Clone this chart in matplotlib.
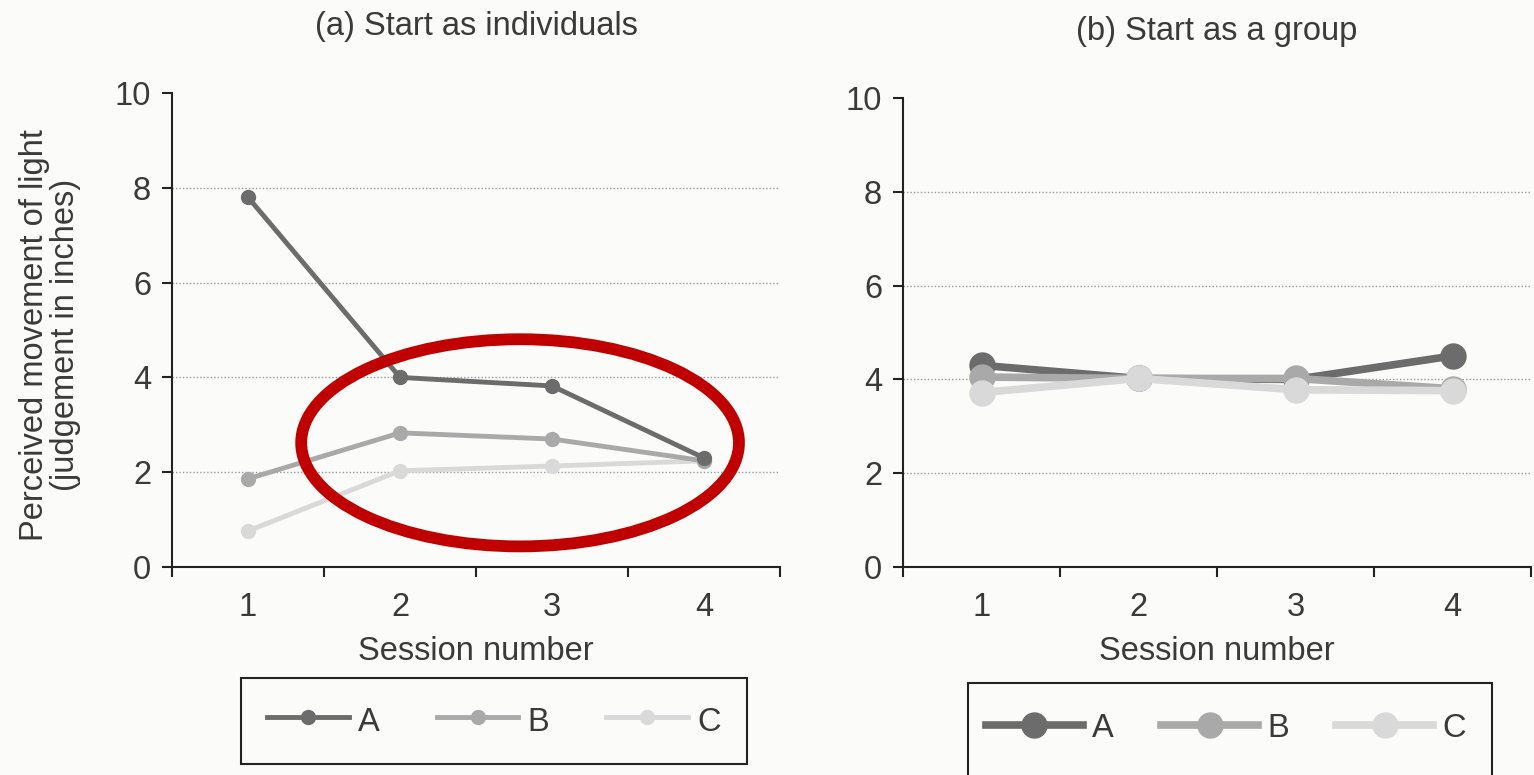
import matplotlib
matplotlib.use("Agg")
import matplotlib.pyplot as plt
from matplotlib.patches import Ellipse, Rectangle

plt.rcParams['font.family'] = ['Liberation Sans', 'DejaVu Sans']

sessions = [1, 2, 3, 4]
series_names = ["A", "B", "C"]
left_A = [7.8, 4.0, 3.82, 2.3]
left_B = [1.86, 2.83, 2.7, 2.24]
left_C = [0.76, 2.03, 2.13, 2.24]
right_A = [4.3, 4.02, 4.0, 4.5]
right_B = [4.05, 4.02, 4.02, 3.8]
right_C = [3.72, 4.02, 3.78, 3.76]
yticks = [0, 2, 4, 6, 8, 10]
titles = ["(a) Start as individuals", "(b) Start as a group"]
xlabel = "Session number"
ylabel = "Perceived movement of light\n(judgement in inches)"

colors = ["#6c6c6c", "#a9a9a9", "#d9d9d9"]
txt = "#3a3a3a"
FS = 23.5

W, H = 1534, 775
fig = plt.figure(figsize=(W / 100, H / 100), dpi=100, facecolor="#fbfbfa")

def px_axes(x0, x1, ytop, ybot):
    return [x0 / W, (H - ybot) / H, (x1 - x0) / W, (ybot - ytop) / H]

ax1 = fig.add_axes(px_axes(172, 780, 93, 567))
ax2 = fig.add_axes(px_axes(903, 1531, 98, 567))

def style(ax, title):
    ax.set_facecolor("none")
    ax.set_xlim(0.5, 4.5)
    ax.set_ylim(0, 10)
    for s in ["top", "right"]:
        ax.spines[s].set_visible(False)
    for s in ["left", "bottom"]:
        ax.spines[s].set_linewidth(1.5)
        ax.spines[s].set_color("#222222")
    ax.set_yticks(yticks)
    ax.set_yticklabels([str(v) for v in yticks])
    ax.tick_params(axis="y", length=7, width=1.5, pad=8, labelsize=FS, labelcolor=txt, color="#222222")
    ax.set_xticks(sessions)
    ax.set_xticklabels([str(v) for v in sessions])
    ax.tick_params(axis="x", which="major", length=0, pad=18, labelsize=FS, labelcolor=txt)
    ax.set_xticks([0.5, 1.5, 2.5, 3.5, 4.5], minor=True)
    ax.tick_params(axis="x", which="minor", length=7, width=1.5, color="#222222")
    for v in yticks[1:-1]:
        ax.axhline(v, color="#9a9a9a", lw=1.0, ls=(0, (1, 1.5)), zorder=0.5)
    ax.set_xlabel(xlabel, fontsize=FS, color=txt, labelpad=9)
    ax.set_title(title, fontsize=FS, color=txt, pad=42)

style(ax1, titles[0])
style(ax2, titles[1])

left = [left_A, left_B, left_C]
right = [right_A, right_B, right_C]
handles1 = []
for i, (name, vals) in enumerate(zip(series_names, left)):
    h, = ax1.plot(sessions, vals, color=colors[i], lw=3.5, marker="o", ms=10,
                  mfc=colors[i], mec=colors[i], zorder=5 - i, label=name, clip_on=False)
    handles1.append(h)
handles2 = []
for i, (name, vals) in enumerate(zip(series_names, right)):
    h, = ax2.plot(sessions, vals, color=colors[i], lw=5.5, marker="o", ms=18,
                  mfc=colors[i], mec=colors[i], zorder=3 + i, label=name, clip_on=False)
    handles2.append(h)

fig.text(50 / W, (H - 335) / H, ylabel, rotation=90, ha="center", va="center",
         fontsize=FS, color=txt, multialignment="center", linespacing=1.02)

leg1 = ax1.legend(handles=handles1, loc="upper center", bbox_to_anchor=(494 / W, (H - 678) / H),
                  bbox_transform=fig.transFigure, ncol=3, fontsize=FS, frameon=True,
                  fancybox=False, edgecolor="#222222", facecolor="none", framealpha=1,
                  handlelength=2.5, handleheight=1.1, handletextpad=0.28, columnspacing=1.75,
                  borderpad=0.8, borderaxespad=0)
leg1.get_frame().set_linewidth(1.5)
for t in leg1.get_texts():
    t.set_color(txt)

leg2 = ax2.legend(handles=handles2, loc="center", bbox_to_anchor=(1226 / W, (H - 728) / H),
                  bbox_transform=fig.transFigure, ncol=3, fontsize=FS, frameon=False,
                  handlelength=2.97, handleheight=0.9, handletextpad=0.28, columnspacing=1.45,
                  borderpad=0.2, borderaxespad=0)
for t in leg2.get_texts():
    t.set_color(txt)
fig.patches.append(Rectangle((968 / W, -0.05), (1492 - 968) / W, (H - 683) / H + 0.05,
                             transform=fig.transFigure, fill=False, edgecolor="#222222",
                             lw=1.5, clip_on=False))

ell = Ellipse((2.79, 2.62), 2.88, 4.37, fill=False, edgecolor="#c00000", lw=8.5,
              zorder=10, clip_on=False)
ax1.add_patch(ell)

fig.savefig("out.png", dpi=100, facecolor=fig.get_facecolor())
